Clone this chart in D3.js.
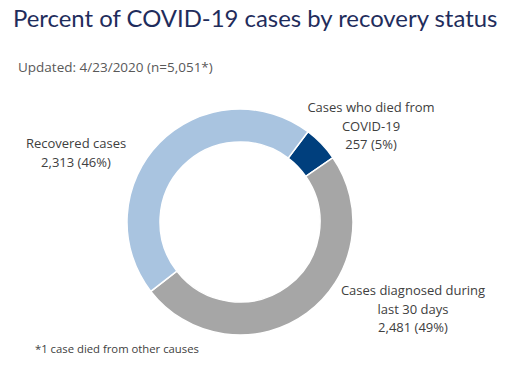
<!DOCTYPE html>
<html>
<head>
<meta charset="utf-8">
<script src="https://cdn.jsdelivr.net/npm/d3@7"></script>
<style>
  body { margin: 0; background: #fff; }
  text { font-family: "Open Sans", "Noto Sans", sans-serif; }
</style>
</head>
<body>
<svg id="chart" width="515" height="371"></svg>
<script>
// slice data, in clockwise order starting at the top-right
const categories = ["Cases who died from COVID-19", "Cases diagnosed during last 30 days", "Recovered cases"];
const counts = [257, 2481, 2313];
const percents = ["5%", "49%", "46%"];
const colors = ["#003f7d", "#a6a6a6", "#a9c4e0"];
// label lines for each slice
const labelLines = [
    ["Cases who died from", "COVID-19"],
    ["Cases diagnosed during", "last 30 days"],
    ["Recovered cases"]
];

const width = 515, height = 371;
const svg = d3.select("#chart");

// title and subtitle
svg.append("text")
    .attr("x", 13).attr("y", 27)
    .style("font-family", "Lato, sans-serif")
    .style("font-size", "23.9px")
    .attr("fill", "#1f2d5c")
    .text("Percent of COVID-19 cases by recovery status");

svg.append("text")
    .attr("x", 18).attr("y", 72)
    .style("font-size", "13.5px")
    .attr("fill", "#595959")
    .text("Updated: 4/23/2020 (n=5,051*)");

// donut
const cx = 240, cy = 222;
const outerR = 113, innerR = 80;
const startDeg = 37;

const pie = d3.pie()
    .sort(null)
    .startAngle(startDeg * Math.PI / 180)
    .endAngle((startDeg + 360) * Math.PI / 180);

const arc = d3.arc().innerRadius(innerR).outerRadius(outerR);

const g = svg.append("g").attr("transform", `translate(${cx},${cy})`);

g.selectAll("path")
    .data(pie(counts))
    .enter()
    .append("path")
    .attr("d", arc)
    .attr("fill", (d, i) => colors[i])
    .attr("stroke", "#fff")
    .attr("stroke-width", 1.5);

// labels (centre x, first baseline)
const labelPos = [[371, 112], [413, 295], [76, 148]];
const fmt = d3.format(",");

labelPos.forEach((p, i) => {
    const lines = labelLines[i].concat([`${fmt(counts[i])} (${percents[i]})`]);
    const t = svg.append("text")
        .attr("text-anchor", "middle")
        .style("font-size", "13px")
        .attr("fill", "#404040");
    lines.forEach((line, j) => {
        t.append("tspan")
            .attr("x", p[0])
            .attr("y", p[1] + j * 18.5)
            .text(line);
    });
});

// footnote
svg.append("text")
    .attr("x", 35).attr("y", 353)
    .style("font-size", "11.3px")
    .attr("fill", "#404040")
    .text("*1 case died from other causes");
</script>
</body>
</html>
